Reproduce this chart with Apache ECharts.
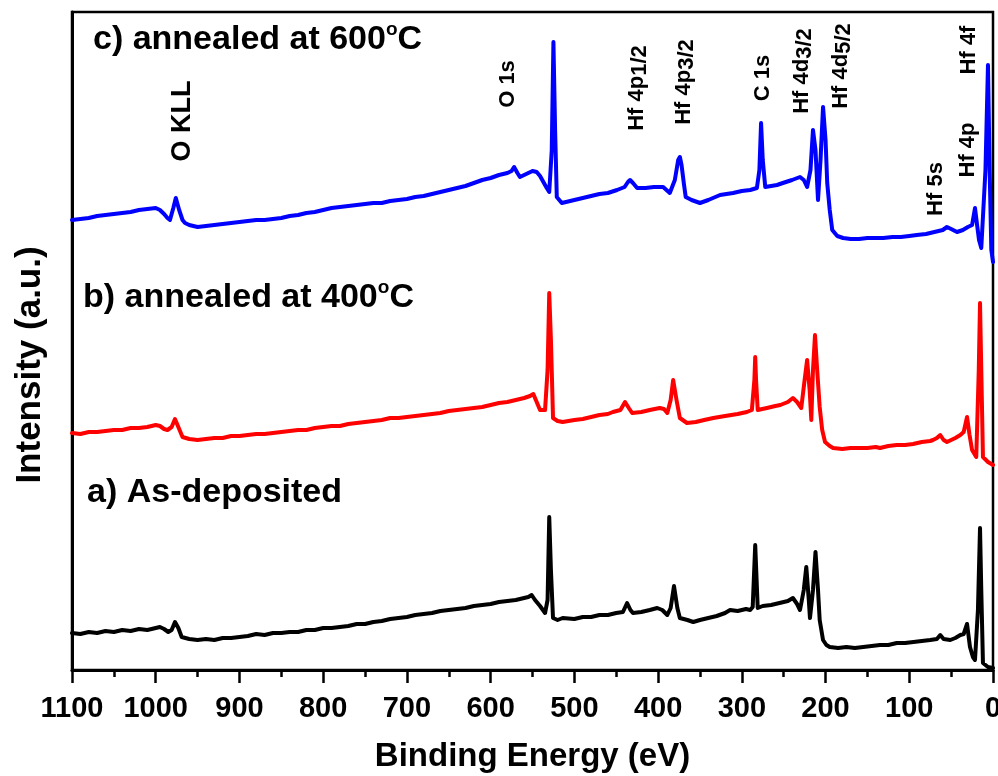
<!DOCTYPE html>
<html>
<head>
<meta charset="utf-8">
<script src="https://cdn.jsdelivr.net/npm/echarts@6/dist/echarts.min.js"></script>
<style>
  html, body { margin: 0; padding: 0; background: #fff; }
  #chart { width: 998px; height: 776px; }
</style>
</head>
<body>
<div id="chart"></div>
<script>
// XPS survey spectra of HfO2 films, stacked with a vertical offset.
// Each point: [binding energy (eV), intensity (a.u.)]
const asDeposited = [
  [1100, 37], [1090, 36], [1080, 38], [1070, 37], [1060, 39], [1050, 38], [1040, 40],
  [1030, 39], [1020, 41], [1010, 40], [1000, 42], [995, 43], [990, 41], [985, 38],
  [981, 40], [977, 48], [973, 42], [969, 33], [960, 31], [950, 30], [940, 31],
  [930, 30], [920, 32], [910, 32], [900, 33], [890, 34], [880, 36], [870, 35],
  [860, 37], [850, 37], [840, 38], [830, 38], [820, 40], [810, 40], [800, 42],
  [790, 42], [780, 43], [770, 44], [760, 46], [750, 46], [740, 48], [730, 49],
  [720, 51], [710, 52], [700, 53], [690, 55], [680, 56], [670, 57], [660, 59],
  [650, 60], [640, 61], [630, 62], [620, 64], [610, 65], [600, 66], [590, 68],
  [580, 69], [570, 70], [560, 72], [555, 73], [551, 75], [547, 70], [541, 64],
  [535, 57], [532, 70], [530, 153], [528, 100], [525.5, 52], [520, 50], [514, 52],
  [500, 51], [490, 53], [480, 53], [470, 55], [460, 55], [450, 57], [442, 58],
  [437, 67], [433, 60], [430, 57], [420, 58], [410, 60], [401, 62], [395, 60],
  [389, 55], [385, 62], [381, 84], [377, 62], [374, 52], [365, 50], [358, 48],
  [350, 50], [340, 52], [330, 54], [320, 57], [314, 60], [305, 59], [295, 61],
  [290, 60], [287, 63], [284, 125], [281, 62], [275, 64], [265, 65], [255, 67],
  [245, 69], [239, 72], [234, 66], [230.5, 60], [226, 80], [223, 103], [220, 70],
  [218.6, 52], [215, 80], [212, 118], [209, 80], [207, 50], [203, 30], [199, 25],
  [195, 23], [185, 22], [175, 23], [165, 22], [155, 23], [145, 24], [135, 25],
  [125, 25], [115, 27], [105, 27], [95, 28], [85, 29], [75, 30], [67, 31],
  [63, 35], [59, 31], [51, 30], [45, 32], [39, 35], [35, 36], [31, 46],
  [27.5, 23], [24, 13], [21.5, 10], [18, 60], [15.5, 142], [14, 80], [12, 7],
  [6, 3], [0, 2]
];

const annealed400 = [
  [1100, 237], [1090, 236], [1080, 238], [1070, 238], [1060, 239], [1050, 240],
  [1040, 240], [1030, 242], [1020, 242], [1010, 243], [1000, 245], [995, 244],
  [990, 241], [986, 240], [981, 243], [977, 251], [973, 243], [968, 233],
  [960, 231], [950, 230], [940, 231], [930, 232], [920, 232], [910, 234],
  [900, 234], [890, 235], [880, 236], [870, 236], [860, 237], [850, 238],
  [840, 239], [830, 240], [820, 240], [810, 242], [800, 243], [790, 244],
  [780, 244], [770, 246], [760, 247], [750, 248], [740, 249], [730, 250],
  [720, 252], [710, 252], [700, 253], [690, 254], [680, 255], [670, 256],
  [660, 257], [650, 259], [640, 260], [630, 261], [620, 262], [610, 263],
  [600, 265], [590, 267], [580, 268], [570, 270], [560, 272], [553, 274],
  [549, 276], [545, 268], [541, 260], [535, 260], [532, 300], [530, 377],
  [528, 330], [525.5, 252], [520, 249], [514, 248], [500, 250], [490, 251],
  [480, 253], [470, 255], [460, 256], [454, 258], [445, 260], [439.5, 268],
  [435, 262], [431, 257], [420, 258], [410, 260], [398, 262], [393, 261],
  [389, 257], [385, 270], [382, 290], [378, 270], [374, 252], [365.5, 247],
  [355, 248], [345, 250], [334, 252], [320, 254], [305, 256], [294, 258],
  [288, 260], [285, 290], [284, 313], [283, 290], [281, 260], [270, 262],
  [260, 264], [254, 265], [245, 268], [239, 272], [234, 268], [229, 262],
  [225, 290], [222, 310], [219, 280], [217, 250], [215, 300], [212.6, 335],
  [210, 300], [207, 263], [204, 240], [200.6, 228], [195, 224], [191, 222],
  [180, 221], [170, 222], [160, 222], [150, 222], [140, 223], [135, 222],
  [125, 224], [115, 225], [105, 225], [95.5, 226], [85, 228], [75, 229],
  [71.7, 230], [67, 232], [63, 235], [59, 230], [55, 228], [50, 230], [45, 232],
  [39, 235], [35, 238], [31, 253], [28, 235], [25, 220], [20, 213], [17, 300],
  [15.5, 367], [14, 300], [12, 213], [6, 208], [0, 205]
];

const annealed600 = [
  [1100, 450], [1090, 451], [1080, 452], [1070, 454], [1060, 455], [1050, 456],
  [1040, 457], [1030, 458], [1020, 460], [1010, 461], [1000, 462], [995, 460],
  [990, 456], [986, 452], [983, 450], [979, 462], [976, 472], [972, 460],
  [968, 450], [965, 447], [960, 445], [950, 443], [940, 444], [930, 445],
  [920, 446], [910, 447], [900, 448], [890, 449], [880, 450], [870, 450],
  [860, 451], [850, 452], [840, 454], [830, 455], [820, 457], [810, 458],
  [800, 460], [790, 462], [780, 463], [770, 464], [760, 465], [750, 466],
  [740, 467], [730, 467], [720, 469], [710, 470], [700, 471], [690, 473],
  [680, 474], [670, 476], [660, 478], [650, 480], [640, 482], [630, 484],
  [620, 487], [610, 490], [600, 492], [590, 495], [580, 497], [575, 499],
  [572, 503], [568, 497], [565, 493], [560, 495], [555, 497], [550, 499],
  [545, 498], [541, 494], [537, 488], [533, 482], [530, 478], [527, 520],
  [525, 628], [523, 540], [521, 473], [515, 467], [505, 469], [495, 471],
  [490, 472], [480, 474], [470, 476], [460, 477], [449, 480], [440, 483],
  [436, 488], [433.5, 490], [430, 487], [425, 482], [415, 482], [405, 483],
  [394, 483], [390, 480], [386, 477], [380, 490], [376, 510], [374, 513],
  [372, 505], [369, 485], [367, 473], [360, 470], [350, 467], [340, 470],
  [326, 475], [310.5, 477], [300, 479], [290, 480], [282, 482], [279, 500],
  [277, 547], [275, 510], [272, 483], [265, 484], [258, 485], [251, 487],
  [240, 490], [230.5, 493], [226, 490], [222, 483], [218, 500], [215, 540],
  [212, 520], [209, 470], [206, 510], [203, 563], [200, 530], [198, 487],
  [195, 460], [192, 440], [186, 434], [179, 432], [170, 431], [160, 431],
  [150, 432], [140, 432], [131, 432], [120, 433], [110, 433], [100, 434],
  [91, 435], [80, 436], [70, 438], [60, 440], [55, 443], [50, 441], [43, 438],
  [36, 440], [30, 443], [25, 445], [21.5, 462], [19, 445], [16.7, 430],
  [14, 422], [12, 420], [9, 500], [6, 605], [4, 500], [2, 420], [0, 408]
];

const sampleNames = ['a) As-deposited', 'b) annealed at 400', 'c) annealed at 600'];
const peakNames = ['O KLL', 'O 1s', 'Hf 4p1/2', 'Hf 4p3/2', 'C 1s',
                   'Hf 4d3/2', 'Hf 4d5/2', 'Hf 5s', 'Hf 4p', 'Hf 4f'];
const seriesColors = ['#000000', '#ff0000', '#0000ff'];

const FONT = '"Liberation Sans", Arial, Helvetica, sans-serif';

const chart = echarts.init(document.getElementById('chart'), null, { renderer: 'canvas' });

// sample captions (left edge, vertical centre of the caps)
const captionPos = [[87, 493], [83, 298], [93, 40]];
const captions = sampleNames.map((name, i) => {
  const degree = i > 0;
  return {
    type: 'text',
    x: captionPos[i][0],
    y: captionPos[i][1],
    z: 100,
    style: {
      text: degree ? '{m|' + name + '}{s|o}{m|C}' : '{m|' + name + '}',
      align: 'left', verticalAlign: 'middle',
      textAlign: 'left', textVerticalAlign: 'middle',
      rich: {
        m: { fontSize: 34, fontWeight: 'bold', fontFamily: FONT, lineHeight: 40, fill: '#000', color: '#000' },
        s: { fontSize: 19, fontWeight: 'bold', fontFamily: FONT, lineHeight: 28, verticalAlign: 'top', fill: '#000', color: '#000' }
      }
    }
  };
});

// rotated peak assignments (centre x, centre y, font size)
const peakPos = [
  [183, 121, 27], [508, 84, 22], [637, 88, 22], [684, 82, 22], [763, 78, 22],
  [802, 71, 22], [841, 66, 22], [936, 189, 22], [968, 150, 22], [969, 50, 22]
];
const peakLabels = peakNames.map((name, i) => {
  const m = name.match(/^(.*?)(\d\/\d)$/);
  const fs = peakPos[i][2];
  const text = m ? '{m|' + m[1] + '}{s|' + m[2] + '}' : '{m|' + name + '}';
  return {
    type: 'text',
    x: peakPos[i][0],
    y: peakPos[i][1],
    rotation: Math.PI / 2,
    z: 100,
    style: {
      text: text,
      align: 'center', verticalAlign: 'middle',
      textAlign: 'center', textVerticalAlign: 'middle',
      rich: {
        m: { fontSize: fs, fontWeight: 'bold', fontFamily: FONT, lineHeight: fs + 6, fill: '#000', color: '#000' },
        s: { fontSize: fs, fontWeight: 'bold', fontFamily: FONT, lineHeight: fs, verticalAlign: 'bottom', fill: '#000', color: '#000' }
      }
    }
  };
});

const yTitle = {
  type: 'text',
  x: 30, y: 365,
  rotation: Math.PI / 2,
  z: 100,
  style: {
    text: 'Intensity (a.u.)',
    font: 'bold 35px ' + FONT,
    fill: '#000',
    align: 'center', verticalAlign: 'middle',
    textAlign: 'center', textVerticalAlign: 'middle'
  }
};

const spectra = [asDeposited, annealed400, annealed600];

const option = {
  animation: false,
  backgroundColor: '#ffffff',
  grid: {
    left: 72, right: 5, top: 12, bottom: 106,
    show: true, borderColor: '#000', borderWidth: 2.5, backgroundColor: 'transparent',
    containLabel: false,
    outerBoundsMode: 'none'
  },
  xAxis: {
    type: 'value',
    inverse: true,
    min: 0, max: 1100, interval: 100,
    name: 'Binding Energy (eV)',
    nameLocation: 'middle',
    nameGap: 70,
    nameTextStyle: { fontSize: 33, fontWeight: 'bold', fontFamily: FONT, color: '#000' },
    axisLine: { show: true, onZero: false, lineStyle: { color: '#000', width: 3 } },
    axisTick: { show: true, inside: false, length: 13, lineStyle: { color: '#000', width: 2.5 } },
    minorTick: { show: true, splitNumber: 2, length: 7, lineStyle: { color: '#000', width: 2.5 } },
    axisLabel: {
      show: true, interval: 0, margin: 24,
      fontSize: 29, fontWeight: 'bold', fontFamily: FONT, color: '#000',
      showMinLabel: true, showMaxLabel: true,
      hideOverlap: false,
      formatter: (v) => String(v)
    },
    splitLine: { show: false },
    minorSplitLine: { show: false }
  },
  yAxis: {
    type: 'value',
    min: 0, max: 658,
    axisLine: { show: true, onZero: false, lineStyle: { color: '#000', width: 3 } },
    axisTick: { show: false },
    axisLabel: { show: false },
    splitLine: { show: false }
  },
  series: spectra.map((data, i) => ({
    type: 'line',
    name: sampleNames[i],
    data: data,
    showSymbol: false,
    symbol: 'none',
    smooth: false,
    clip: true,
    z: 2 + i,
    lineStyle: { color: seriesColors[i], width: 4, join: 'round', cap: 'round' },
    itemStyle: { color: seriesColors[i] },
    emphasis: { disabled: true }
  })),
  graphic: { elements: captions.concat(peakLabels, [yTitle]) }
};

chart.setOption(option);
</script>
</body>
</html>
